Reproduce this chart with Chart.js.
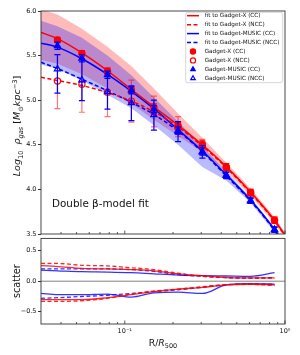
<!DOCTYPE html>
<html>
<head>
<meta charset="utf-8">
<script src="https://cdn.jsdelivr.net/npm/chart.js@4.4.0/dist/chart.umd.min.js"></script>
<style>
  html, body { margin: 0; padding: 0; background: #fff; }
  #wrap { position: relative; width: 300px; height: 355px; }
  canvas { position: absolute; left: 0; }
</style>
</head>
<body>
<div id="wrap">
  <canvas id="top-chart" width="300" height="242" style="top:0"></canvas>
  <canvas id="bottom-chart" width="300" height="122" style="top:233px"></canvas>
</div>
<script>
// radial bins (R/R500)
const radii = [0.038, 0.054, 0.078, 0.11, 0.152, 0.215, 0.305, 0.43, 0.61, 0.86];

// Gadget-X
const gxCC = [5.675, 5.525, 5.325, 5.115, 4.92, 4.71, 4.505, 4.25, 3.965, 3.655];
const gxCCLo = [5.645, 5.495, 5.29, 5.075, 4.88, 4.67, 4.465, 4.215, 3.93, 3.62];
const gxCCHi = [5.705, 5.555, 5.36, 5.155, 4.96, 4.75, 4.545, 4.29, 4.0, 3.69];
const gxNCC = [5.215, 5.18, 5.09, 4.99, 4.87, 4.70, 4.49, 4.245, 3.96, 3.65];
const gxNCCLo = [4.905, 4.865, 4.815, 4.755, 4.70, 4.59, 4.44, 4.21, 3.93, 3.62];
const gxNCCHi = [5.51, 5.50, 5.36, 5.225, 5.045, 4.815, 4.56, 4.29, 4.0, 3.69];

// Gadget-MUSIC
const gmCC = [5.61, 5.47, 5.285, 5.11, 4.90, 4.66, 4.425, 4.16, 3.875, 3.55];
const gmCCLo = [5.57, 5.43, 5.245, 5.07, 4.86, 4.62, 4.385, 4.125, 3.845, 3.52];
const gmCCHi = [5.65, 5.51, 5.325, 5.15, 4.94, 4.70, 4.465, 4.195, 3.905, 3.58];
const gmNCC = [5.35, 5.225, 5.095, 4.97, 4.835, 4.645, 4.415, 4.155, 3.87, 3.545];
const gmNCCLo = [5.08, 4.995, 4.90, 4.77, 4.665, 4.535, 4.35, 4.12, 3.845, 3.52];
const gmNCCHi = [5.51, 5.46, 5.30, 5.16, 5.0, 4.76, 4.49, 4.19, 3.9, 3.575];

// double beta-model fits
const fitX = [0.03, 0.038, 0.054, 0.078, 0.11, 0.152, 0.215, 0.305, 0.43, 0.61, 0.86, 1.0];
const fitGxCC = [5.76, 5.69, 5.53, 5.33, 5.12, 4.925, 4.72, 4.50, 4.255, 3.97, 3.655, 3.49];
const fitGxNCC = [5.257, 5.22, 5.165, 5.085, 4.99, 4.87, 4.70, 4.485, 4.245, 3.96, 3.645, 3.48];
const fitGmCC = [5.64, 5.595, 5.465, 5.29, 5.10, 4.905, 4.67, 4.43, 4.165, 3.88, 3.55, 3.37];
const fitGmNCC = [5.425, 5.355, 5.235, 5.105, 4.975, 4.84, 4.655, 4.42, 4.15, 3.87, 3.54, 3.36];

// shaded scatter bands
const gxBandHi = [6.02, 5.96, 5.80, 5.60, 5.38, 5.13, 4.85, 4.58, 4.30, 4.01, 3.69, 3.52];
const gxBandLo = [5.45, 5.41, 5.29, 5.13, 4.96, 4.78, 4.60, 4.42, 4.20, 3.93, 3.62, 3.46];
const gmBandHi = [5.89, 5.83, 5.70, 5.50, 5.28, 5.03, 4.76, 4.48, 4.20, 3.91, 3.57, 3.40];
const gmBandLo = [5.40, 5.35, 5.22, 5.06, 4.91, 4.72, 4.50, 4.25, 4.10, 3.85, 3.52, 3.34];

// lower panel: scatter
const scX = [0.03, 0.038, 0.054, 0.078, 0.11, 0.152, 0.215, 0.305, 0.43, 0.61, 0.86];
const scGxCCUp = [0.255, 0.24, 0.21, 0.20, 0.19, 0.17, 0.12, 0.09, 0.06, 0.055, 0.055];
const scGxNCCUp = [0.29, 0.29, 0.26, 0.25, 0.22, 0.19, 0.13, 0.08, 0.06, 0.05, 0.05];
const scGmCCUp = [0.18, 0.17, 0.155, 0.15, 0.14, 0.12, 0.10, 0.09, 0.085, 0.08, 0.14];
const scGmNCCUp = [0.20, 0.20, 0.20, 0.20, 0.19, 0.16, 0.11, 0.08, 0.06, 0.05, 0.06];
const scGxCCLo = [-0.30, -0.30, -0.30, -0.27, -0.22, -0.17, -0.13, -0.10, -0.06, -0.05, -0.06];
const scGxNCCLo = [-0.33, -0.33, -0.32, -0.28, -0.21, -0.16, -0.13, -0.09, -0.055, -0.05, -0.07];
const scGmCCLo = [-0.20, -0.22, -0.22, -0.21, -0.26, -0.19, -0.18, -0.20, -0.06, -0.04, -0.05];
const scGmNCCLo = [-0.28, -0.27, -0.25, -0.23, -0.20, -0.17, -0.14, -0.10, -0.06, -0.05, -0.05];
const zeroX = [0.03, 1];
const zeroY = [0, 0];

const topTicks = [3.5, 4.0, 4.5, 5.0, 5.5, 6.0];
const bottomTicks = [-0.5, 0, 0.5];
const xTickVals = [0.04, 0.05, 0.06, 0.07, 0.08, 0.09, 0.1, 0.2, 0.3, 0.4, 0.5, 0.6, 0.7, 0.8, 0.9, 1];
const xTickLabels = { 0.1: '10\u207B\u00B9', 1: '10\u2070' };

const RED = '#ff0000';
const BLUE = '#0000ff';
const FONT = 'DejaVu Sans';

const pts = (xs, ys) => xs.map((x, i) => ({ x, y: ys[i] }));

function fmt(v) {
    return v < 0 ? '\u2212' + Math.abs(v).toFixed(1) : v.toFixed(1);
}

// frame around the axes
const frame = {
    id: 'frame',
    afterDraw(chart) {
        const { ctx, chartArea: a } = chart;
        ctx.save();
        ctx.strokeStyle = '#333';
        ctx.lineWidth = 0.9;
        ctx.strokeRect(a.left, a.top, a.right - a.left, a.bottom - a.top);
        ctx.restore();
    }
};

// inward x ticks at the bottom edge
const inTicks = {
    id: 'inTicks',
    afterDraw(chart) {
        const { ctx, chartArea: a, scales } = chart;
        ctx.save();
        ctx.strokeStyle = '#333';
        ctx.lineWidth = 0.8;
        xTickVals.forEach(v => {
            const px = scales.x.getPixelForValue(v);
            const len = xTickLabels[v] ? 3.5 : 2;
            ctx.beginPath();
            ctx.moveTo(px, a.bottom);
            ctx.lineTo(px, a.bottom - len);
            ctx.stroke();
        });
        ctx.restore();
    }
};

const errorBars = {
    id: 'errorBars',
    beforeDatasetDraw(chart, args) {
        const ds = chart.data.datasets[args.index];
        if (!ds.errLo) return;
        const { ctx, scales: { x, y } } = chart;
        ctx.save();
        ctx.strokeStyle = ds.errColor;
        ctx.lineWidth = 1.2;
        ds.data.forEach((p, i) => {
            const px = x.getPixelForValue(p.x);
            const lo = y.getPixelForValue(ds.errLo[i]);
            const hi = y.getPixelForValue(ds.errHi[i]);
            ctx.beginPath();
            ctx.moveTo(px, lo); ctx.lineTo(px, hi);
            ctx.moveTo(px - 3, lo); ctx.lineTo(px + 3, lo);
            ctx.moveTo(px - 3, hi); ctx.lineTo(px + 3, hi);
            ctx.stroke();
        });
        ctx.restore();
    }
};

function drawRich(ctx, segs, cx, cy, rotate) {
    ctx.save();
    ctx.translate(cx, cy);
    if (rotate) ctx.rotate(-Math.PI / 2);
    ctx.textBaseline = 'alphabetic';
    ctx.fillStyle = '#111';
    let total = 0;
    segs.forEach(s => {
        ctx.font = (s.italic ? 'italic ' : '') + s.size + 'px "' + FONT + '"';
        s.w = ctx.measureText(s.t).width;
        total += s.w;
    });
    let x = -total / 2;
    segs.forEach(s => {
        ctx.font = (s.italic ? 'italic ' : '') + s.size + 'px "' + FONT + '"';
        ctx.fillText(s.t, x, 3.4 + (s.dy || 0));
        x += s.w;
    });
    ctx.restore();
}

const topTexts = {
    id: 'topTexts',
    afterDraw(chart) {
        const { ctx, chartArea: a } = chart;
        drawRich(ctx, [
            { t: 'Log', size: 9.5, italic: true },
            { t: '10', size: 6.7, dy: 2.2 },
            { t: '  ', size: 9.5 },
            { t: '\u03C1', size: 9.5, italic: true },
            { t: 'gas', size: 6.7, italic: true, dy: 2.2 },
            { t: ' [', size: 9.5 },
            { t: 'M', size: 9.5, italic: true },
            { t: '\u2299', size: 6.7, dy: 2.2 },
            { t: 'kpc', size: 9.5, italic: true },
            { t: '\u22123', size: 6.7, dy: -3.8 },
            { t: ']', size: 9.5 }
        ], 17, 126, true);

        ctx.save();
        ctx.font = '10.4px "' + FONT + '"';
        ctx.fillStyle = '#111';
        ctx.textBaseline = 'middle';
        ctx.fillText('Double \u03B2-model fit', a.left + 11, a.bottom - 30);
        ctx.restore();
    }
};

const legendBox = {
    id: 'legendBox',
    afterDraw(chart) {
        const { ctx, chartArea: a } = chart;
        const items = chart.data.datasets
            .filter(d => d.legendRank)
            .sort((p, q) => p.legendRank - q.legendRank);
        const w = 97, rowH = 8.94;
        const bx = a.right - w - 2.3, by = a.top + 1.3;
        const h = (items.length - 1) * rowH + 7.8;
        ctx.save();
        ctx.fillStyle = 'rgba(255,255,255,0.85)';
        ctx.strokeStyle = '#ccc';
        ctx.lineWidth = 0.8;
        ctx.beginPath();
        ctx.roundRect(bx, by, w, h, 2);
        ctx.fill();
        ctx.stroke();
        items.forEach((d, i) => {
            const cy = by + 3.4 + i * rowH;
            if (d.showLine === false) {
                ctx.fillStyle = d.backgroundColor;
                ctx.strokeStyle = d.borderColor;
                ctx.lineWidth = d.borderWidth;
                Chart.helpers.drawPoint(ctx, {
                    pointStyle: d.pointStyle, radius: 2.6, rotation: 0, borderWidth: d.borderWidth
                }, bx + 7.3, cy);
            } else {
                ctx.strokeStyle = d.borderColor;
                ctx.lineWidth = d.borderWidth;
                ctx.setLineDash(d.borderDash || []);
                ctx.beginPath();
                ctx.moveTo(bx + 1.3, cy);
                ctx.lineTo(bx + 13.3, cy);
                ctx.stroke();
                ctx.setLineDash([]);
            }
            ctx.fillStyle = '#111';
            ctx.font = '5.7px "' + FONT + '"';
            ctx.textBaseline = 'middle';
            ctx.fillText(d.label, bx + 19, cy + 0.3);
        });
        ctx.restore();
    }
};

const bottomTexts = {
    id: 'bottomTexts',
    afterDraw(chart) {
        const { ctx, chartArea: a } = chart;
        drawRich(ctx, [{ t: 'scatter', size: 9.7 }], 17, (a.top + a.bottom) / 2, true);
        drawRich(ctx, [
            { t: 'R/', size: 9.3 },
            { t: 'R', size: 9.3, italic: true },
            { t: '500', size: 6.5, dy: 2.2 }
        ], (a.left + a.right) / 2, 109.7, false);
    }
};

function band(label, xs, ys, color, fill, order) {
    return {
        label, data: pts(xs, ys), fill, backgroundColor: color,
        borderColor: 'rgba(0,0,0,0)', borderWidth: 0, pointRadius: 0, order
    };
}

function fitLine(label, ys, color, dash, rank) {
    return {
        label, data: pts(fitX, ys), borderColor: color, borderWidth: 1.5,
        borderDash: dash, pointRadius: 0, fill: false,
        cubicInterpolationMode: 'monotone', order: 5, legendRank: rank
    };
}

function markers(label, ys, lo, hi, color, style, filled, errColor, order, rank) {
    return {
        label, data: pts(radii, ys), showLine: false, pointStyle: style,
        pointRadius: style === 'triangle' ? 3.6 : 3.1,
        backgroundColor: filled ? color : 'rgba(0,0,0,0)',
        borderColor: color, borderWidth: 1.2,
        errLo: lo, errHi: hi, errColor, order, legendRank: rank
    };
}

const topData = {
    datasets: [
        band('gx band hi', fitX, gxBandHi, 'rgba(255,0,0,0.27)', '+1', 12),
        band('gx band lo', fitX, gxBandLo, 'rgba(0,0,0,0)', false, 12),
        band('gm band hi', fitX, gmBandHi, 'rgba(0,0,255,0.27)', '+1', 11),
        band('gm band lo', fitX, gmBandLo, 'rgba(0,0,0,0)', false, 11),
        fitLine('fit to Gadget-X (CC)', fitGxCC, RED, [], 1),
        fitLine('fit to Gadget-X (NCC)', fitGxNCC, RED, [4, 2.5], 2),
        fitLine('fit to Gadget-MUSIC (CC)', fitGmCC, BLUE, [], 3),
        fitLine('fit to Gadget-MUSIC (NCC)', fitGmNCC, BLUE, [4, 2.5], 4),
        markers('Gadget-X (CC)', gxCC, gxCCLo, gxCCHi, RED, 'circle', true, RED, 4, 5),
        markers('Gadget-X (NCC)', gxNCC, gxNCCLo, gxNCCHi, RED, 'circle', false, 'rgba(255,0,0,0.55)', 3, 6),
        markers('Gadget-MUSIC (CC)', gmCC, gmCCLo, gmCCHi, BLUE, 'triangle', true, BLUE, 2, 7),
        markers('Gadget-MUSIC (NCC)', gmNCC, gmNCCLo, gmNCCHi, BLUE, 'triangle', false, BLUE, 1, 8)
    ]
};

new Chart(document.getElementById('top-chart'), {
    type: 'line',
    data: topData,
    options: {
        responsive: false,
        animation: false,
        devicePixelRatio: 1,
        events: [],
        layout: { padding: { top: 11, right: 15, bottom: 8, left: 0 } },
        plugins: { legend: { display: false }, tooltip: { enabled: false } },
        scales: {
            x: { type: 'logarithmic', min: 0.03, max: 1, display: false },
            y: {
                min: 3.5, max: 6,
                afterBuildTicks: s => { s.ticks = topTicks.map(v => ({ value: v })); },
                afterFit: s => { s.width = 41; },
                ticks: { font: { family: FONT, size: 6.5 }, color: '#111', padding: 1.5, callback: fmt },
                grid: { drawOnChartArea: false, drawTicks: true, tickLength: 3, color: '#333' },
                border: { display: false }
            }
        }
    },
    plugins: [errorBars, frame, inTicks, topTexts, legendBox]
});

function scLine(ys, color, dash) {
    return {
        data: pts(scX, ys), borderColor: color, borderWidth: 1.3, borderDash: dash,
        pointRadius: 0, fill: false, cubicInterpolationMode: 'monotone'
    };
}

const RED_S = 'rgba(255,0,0,0.85)';
const BLUE_S = 'rgba(0,0,255,0.8)';

new Chart(document.getElementById('bottom-chart'), {
    type: 'line',
    data: {
        datasets: [
            { data: pts(zeroX, zeroY), borderColor: '#808080', borderWidth: 1, pointRadius: 0, fill: false },
            scLine(scGxCCUp, RED_S, []),
            scLine(scGxNCCUp, RED_S, [4, 2.5]),
            scLine(scGmCCUp, BLUE_S, []),
            scLine(scGmNCCUp, BLUE_S, [4, 2.5]),
            scLine(scGxCCLo, RED_S, []),
            scLine(scGxNCCLo, RED_S, [4, 2.5]),
            scLine(scGmCCLo, BLUE_S, []),
            scLine(scGmNCCLo, BLUE_S, [4, 2.5])
        ]
    },
    options: {
        responsive: false,
        animation: false,
        devicePixelRatio: 1,
        events: [],
        layout: { padding: { top: 1, right: 15, bottom: 0, left: 0 } },
        plugins: { legend: { display: false }, tooltip: { enabled: false } },
        scales: {
            x: {
                type: 'logarithmic', min: 0.03, max: 1,
                afterBuildTicks: s => { s.ticks = xTickVals.map(v => ({ value: v })); },
                afterFit: s => { s.height = 31; },
                ticks: {
                    autoSkip: false, maxRotation: 0, padding: 3.5,
                    font: { family: FONT, size: 6.5 }, color: '#111',
                    callback: v => xTickLabels[v] || ''
                },
                grid: { display: false, drawTicks: false },
                border: { display: false }
            },
            y: {
                min: -0.7, max: 0.7,
                afterBuildTicks: s => { s.ticks = bottomTicks.map(v => ({ value: v })); },
                afterFit: s => { s.width = 41; },
                ticks: { font: { family: FONT, size: 6.5 }, color: '#111', padding: 1.5, callback: fmt },
                grid: { drawOnChartArea: false, drawTicks: true, tickLength: 3, color: '#333' },
                border: { display: false }
            }
        }
    },
    plugins: [frame, inTicks, bottomTexts]
});
</script>
</body>
</html>
